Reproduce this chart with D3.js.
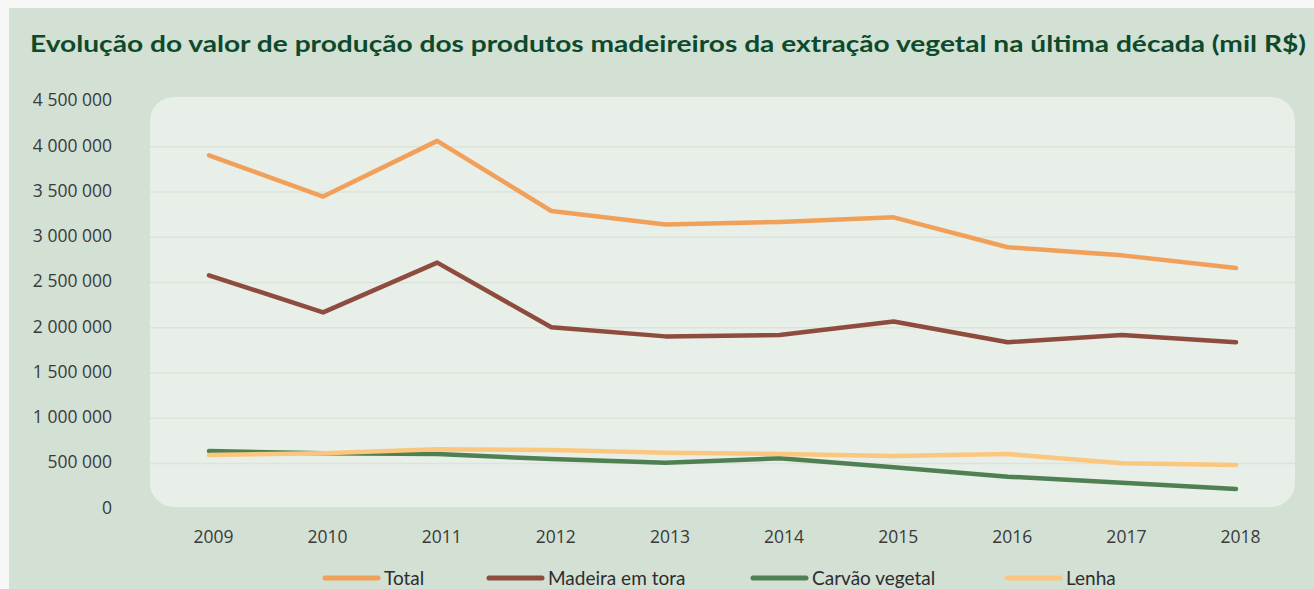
<!DOCTYPE html>
<html><head><meta charset="utf-8">
<script src="https://cdn.jsdelivr.net/npm/d3@7"></script>
<style>
html,body{margin:0;padding:0;background:#f6f7f6;}
svg{display:block;}
</style></head>
<body>
<svg id="c" width="1314" height="589"></svg>
<script>
const years = ["2009","2010","2011","2012","2013","2014","2015","2016","2017","2018"];
const total   = [3905000,3450000,4065000,3290000,3140000,3170000,3220000,2890000,2800000,2660000];
const madeira = [2580000,2170000,2720000,2005000,1905000,1920000,2070000,1840000,1920000,1840000];
const carvao  = [639000,613000,605000,550000,509000,558000,458000,355000,288000,219000];
const lenha   = [595000,613000,657000,650000,620000,605000,583000,605000,503000,484000];
const yTicks  = [0,500000,1000000,1500000,2000000,2500000,3000000,3500000,4000000,4500000];
const seriesNames = ["Total","Madeira em tora","Carvão vegetal","Lenha"];
const seriesColors = ["#F1A05A","#8E4C3E","#4F8052","#FBC77F"];
const title = "Evolução do valor de produção dos produtos madeireiros da extração vegetal na última década (mil R$)";

const svg = d3.select("#c");
const font = "'Open Sans', 'Noto Sans', sans-serif";
const legFont = "Lato, 'Open Sans', sans-serif";

svg.append("rect").attr("x",9).attr("y",8).attr("width",1314-9).attr("height",589-8).attr("fill","#d3e0d4");
svg.append("rect").attr("x",150).attr("y",97).attr("width",1145).attr("height",410).attr("rx",24).attr("ry",24).attr("fill","#e8eee8");

svg.append("text").attr("x",30).attr("y",52).text(title)
  .attr("font-family","Lato, 'Open Sans', sans-serif").attr("font-weight",700).attr("font-size",23)
  .attr("fill","#0d4a2b").attr("textLength",1276).attr("lengthAdjust","spacingAndGlyphs");

const x = d3.scalePoint().domain(years).range([209,1236]);
const y = d3.scaleLinear().domain([0,4500000]).range([508.8,101.5]);

const fmt = v => d3.format(",")(v).replace(/,/g," ");

svg.append("g").selectAll("line").data(yTicks.filter(t=>t>0 && t<4500000)).join("line")
  .attr("x1",150).attr("x2",1295).attr("y1",d=>y(d)).attr("y2",d=>y(d))
  .attr("stroke","#dbe3db").attr("stroke-width",1.5);

const ya = svg.append("g").attr("transform","translate(112,0)")
  .call(d3.axisLeft(y).tickValues(yTicks).tickFormat(fmt).tickSize(0).tickPadding(0));
ya.select(".domain").remove();
ya.selectAll("text").attr("font-family",font).attr("font-size",17.5).attr("fill","#3a3a3a").attr("dy","0.25em");

const xa = svg.append("g").attr("transform","translate(4,531)")
  .call(d3.axisBottom(x).tickSize(0).tickPadding(0));
xa.select(".domain").remove();
xa.selectAll("text").attr("font-family",font).attr("font-size",17.5).attr("fill","#3a3a3a");

const data = [total,madeira,carvao,lenha];
const line = d3.line().x((d,i)=>x(years[i])).y(d=>y(d));
[0,1,2,3].forEach(k=>{
  svg.append("path").datum(data[k]).attr("d",line).attr("fill","none")
    .attr("stroke",seriesColors[k]).attr("stroke-width",4.5)
    .attr("stroke-linejoin","round").attr("stroke-linecap","round");
});

const legX = [325,489,753,1007];
const leg = svg.append("g");
seriesNames.forEach((n,i)=>{
  leg.append("line").attr("x1",legX[i]).attr("x2",legX[i]+53).attr("y1",578).attr("y2",578)
    .attr("stroke",seriesColors[i]).attr("stroke-width",5).attr("stroke-linecap","round");
  leg.append("text").attr("x",legX[i]+59).attr("y",578).attr("dy","0.35em").text(n)
    .attr("font-family",legFont).attr("font-size",19).attr("fill","#2d2d2d");
});
</script>
</body></html>
